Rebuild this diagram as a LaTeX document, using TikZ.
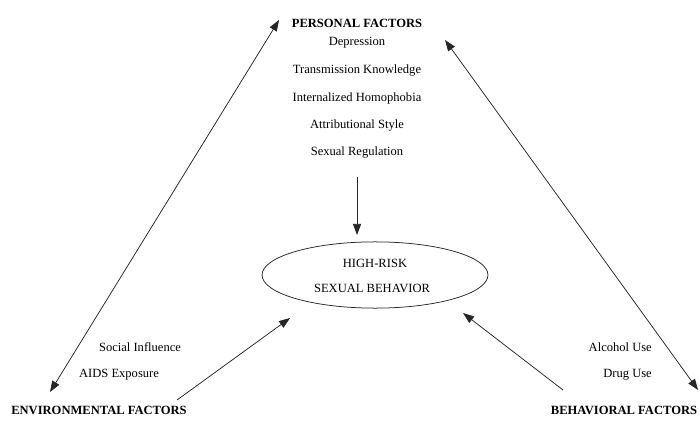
\documentclass[tikz,border=0pt]{standalone}
\usepackage{fontspec}
\setmainfont{Liberation Serif}
\usetikzlibrary{arrows.meta,shapes.geometric}

\begin{document}
\begin{tikzpicture}[scale=0.35]
\tikzstyle{every node}+=[inner sep=0pt, font=\fontsize{12.5}{15}\selectfont]
\tikzstyle{factor}=[font=\fontsize{12.5}{15}\selectfont\bfseries]
\tikzstyle{arrow}=[black!85, line width=0.75pt, -{Triangle[length=11pt,width=8pt]}]
\tikzstyle{twoway}=[black!85, line width=0.75pt, {Triangle[length=11pt,width=8pt]}-{Triangle[length=11pt,width=8pt]}]
\useasboundingbox (0,0) rectangle (70,-42.1);
% personal factors
\draw (35.7,-2.3) node [factor] (personal) {PERSONAL FACTORS};
\draw (35.7,-4.3) node (depression) {Depression};
\draw (35.7,-7.1) node (transmission) {Transmission Knowledge};
\draw (35.7,-9.8) node (homophobia) {Internalized Homophobia};
\draw (35.7,-12.6) node (attributional) {Attributional Style};
\draw (35.7,-15.3) node (regulation) {Sexual Regulation};
% outcome
\draw (37.5,-27.5) node [draw, black!85, line width=0.75pt, ellipse, minimum width=225pt, minimum height=66pt] (risk) {};
\draw (37.5,-26.3) node (high) {HIGH-RISK};
\draw (37.2,-28.8) node (sexual) {SEXUAL BEHAVIOR};
% environmental factors
\draw (14.0,-34.7) node (social) {Social Influence};
\draw (11.9,-37.5) node (aids) {AIDS Exposure};
\draw (9.9,-41.0) node [factor] (environmental) {ENVIRONMENTAL FACTORS};
% behavioral factors
\draw (65.2,-34.7) node [anchor=east] (alcohol) {Alcohol Use};
\draw (65.2,-37.5) node [anchor=east] (drug) {Drug Use};
\draw (62.4,-41.0) node [factor] (behavioral) {BEHAVIORAL FACTORS};
% arrow ends
\coordinate (pl) at (27.9,-2.0);
\coordinate (pr) at (44.5,-4.0);
\coordinate (el) at (5.0,-39.2);
\coordinate (br) at (69.8,-39.0);
\coordinate (ps) at (35.7,-17.7);
\coordinate (pt) at (35.7,-23.5);
\coordinate (es) at (17.7,-40.0);
\coordinate (et) at (29.0,-31.8);
\coordinate (bs) at (56.3,-39.0);
\coordinate (bt) at (46.3,-31.3);
\draw [twoway] (el) -- (pl);
\draw [twoway] (br) -- (pr);
\draw [arrow] (ps) -- (pt);
\draw [arrow] (es) -- (et);
\draw [arrow] (bs) -- (bt);
\end{tikzpicture}
\end{document}
